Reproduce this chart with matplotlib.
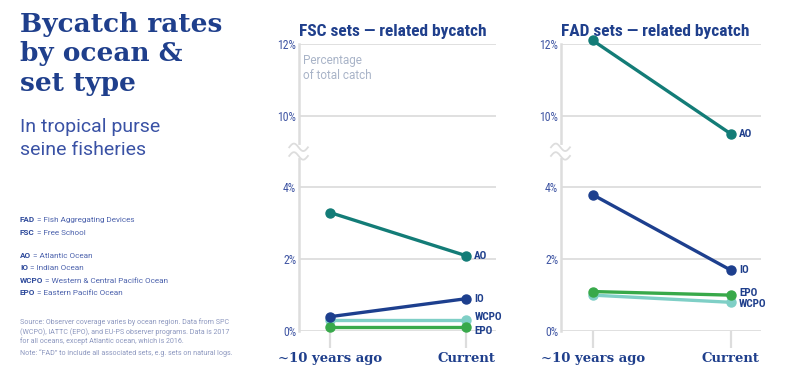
import numpy as np
import matplotlib
matplotlib.use("Agg")
import matplotlib.pyplot as plt
from matplotlib import font_manager

# data
periods = ["~10 years ago", "Current"]
oceans = ["AO", "IO", "WCPO", "EPO"]

fsc_ao = [3.3, 2.1]
fsc_io = [0.4, 0.9]
fsc_wcpo = [0.3, 0.3]
fsc_epo = [0.1, 0.1]

fad_ao = [12.1, 9.5]
fad_io = [3.8, 1.7]
fad_wcpo = [1.0, 0.8]
fad_epo = [1.1, 1.0]

ytick_values = [0, 2, 4, 10, 12]
ytick_labels = ["0%", "2%", "4%", "10%", "12%"]

# styles
NAVY = "#1f3f8c"
TICK_BLUE = "#3f55a3"
GRID = "#dddddd"
colors = {"AO": "#137c77", "IO": "#1d3f8e", "WCPO": "#7fcfc6", "EPO": "#38a94a"}

available = {f.name for f in font_manager.fontManager.ttflist}
def pick(*names):
    return [n for n in names if n in available] or ["DejaVu Sans"]

SANS = pick("Roboto", "DejaVu Sans")
COND = pick("Roboto Condensed", "DejaVu Sans Condensed", "Roboto")
SLAB = pick("Roboto Slab", "DejaVu Serif Condensed", "DejaVu Serif")

plt.rcParams["font.family"] = SANS


# broken y axis: the 4%..8.5% stretch is squeezed to half a percent
def forward(v):
    v = np.asarray(v, dtype=float)
    return np.where(v <= 4, v,
                    np.where(v >= 8.5, v - 4, 4 + (v - 4) * (0.5 / 4.5)))


def inverse(u):
    u = np.asarray(u, dtype=float)
    return np.where(u <= 4, u,
                    np.where(u >= 4.5, u + 4, 4 + (u - 4) * 9))


fig = plt.figure(figsize=(7.87, 3.70), dpi=100)

panels = [
    ("FSC sets \u2014 related bycatch", [0.380, 0.1054, 0.250, 0.7757],
     {"AO": fsc_ao, "IO": fsc_io, "WCPO": fsc_wcpo, "EPO": fsc_epo},
     {"AO": 0, "IO": 0, "WCPO": 2.5, "EPO": -2.5}),
    ("FAD sets \u2014 related bycatch", [0.7128, 0.1054, 0.254, 0.7757],
     {"AO": fad_ao, "IO": fad_io, "WCPO": fad_wcpo, "EPO": fad_epo},
     {"AO": 0, "IO": 0, "WCPO": -1.5, "EPO": 1.5}),
]

draw_order = ["WCPO", "EPO", "IO", "AO"]

for title, rect, series, label_dy in panels:
    ax = fig.add_axes(rect)
    ax.set_yscale("function", functions=(forward, inverse))
    x = np.arange(len(periods))

    for name in draw_order:
        vals = series[name]
        ax.plot(x, vals, color=colors[name], lw=2.4, marker="o", ms=6.5,
                solid_capstyle="round", clip_on=False, zorder=3)
        ax.annotate(name, (x[-1], vals[-1]), xytext=(6, label_dy[name]),
                    textcoords="offset points", ha="left", va="center",
                    fontsize=8, fontweight="bold", color=NAVY,
                    family=COND, annotation_clip=False)

    ax.set_xlim(-0.23, 1.22)
    ax.set_ylim(0, 12)
    ax.set_xticks(x)
    ax.set_xticklabels(periods, fontsize=9.5, fontweight="bold", color=NAVY,
                       family=SLAB)
    ax.tick_params(axis="x", length=12, width=1.6, color=GRID, pad=3)
    ax.set_yticks(ytick_values)
    ax.set_yticklabels(ytick_labels, fontsize=8.5, color=TICK_BLUE, family=COND)
    ax.tick_params(axis="y", length=0, pad=2)
    ax.yaxis.grid(True, color=GRID, lw=1.3)
    ax.set_axisbelow(True)

    for side in ["top", "right", "bottom"]:
        ax.spines[side].set_visible(False)
    ax.spines["left"].set_color(GRID)
    ax.spines["left"].set_linewidth(1.8)

    ax.set_title(title, fontsize=12.5, fontweight="bold", color=NAVY,
                 family=COND, pad=6, loc="left", x=0.0)

    # axis break marks
    yb1, yb2 = 0.64, 0.61
    ax.plot([0, 0], [yb2, yb1], transform=ax.transAxes, color="white",
            lw=3, clip_on=False, zorder=4)
    t = np.linspace(0, 1, 40)
    for yb in (yb1, yb2):
        ax.plot(-0.05 + 0.095 * t, yb + 0.013 * np.sin(2 * np.pi * t),
                transform=ax.transAxes, color=GRID, lw=1.3,
                clip_on=False, zorder=5)

    if title.startswith("FSC"):
        ax.text(0.02, 0.965, "Percentage\nof total catch", transform=ax.transAxes,
                fontsize=8.5, color="#a9b4c8", ha="left", va="top",
                linespacing=1.15)

# left-hand title block
fig.text(20 / 787, 1 - 12 / 370, "Bycatch rates\nby ocean &\nset type",
         fontsize=19, fontweight="bold", color=NAVY, family=SLAB,
         ha="left", va="top", linespacing=1.22)
fig.text(20 / 787, 1 - 118 / 370, "In tropical purse\nseine fisheries",
         fontsize=14, color="#3a52a5",
         ha="left", va="top", linespacing=1.35)

overlay = fig.add_axes([0, 0, 1, 1], facecolor="none")
overlay.set_axis_off()

legend_rows = [
    ("FAD", " = Fish Aggregating Devices", 219),
    ("FSC", " = Free School", 232),
    ("AO", " = Atlantic Ocean", 255),
    ("IO", " = Indian Ocean", 267),
    ("WCPO", " = Western & Central Pacific Ocean", 280),
    ("EPO", " = Eastern Pacific Ocean", 292),
]
for abbr, rest, ypx in legend_rows:
    tb = fig.text(20 / 787, 1 - (ypx + 4) / 370, abbr, fontsize=5.9,
                  fontweight="bold", color="#2e4a9b", ha="left", va="bottom")
    overlay.annotate(rest, xy=(1, 0), xycoords=tb, ha="left", va="bottom",
                     fontsize=5.9, color="#4d63ad")

fig.text(20 / 787, 1 - 318 / 370,
         "Source: Observer coverage varies by ocean region. Data from SPC\n"
         "(WCPO), IATTC (EPO), and EU-PS observer programs. Data is 2017\n"
         "for all oceans, except Atlantic ocean, which is 2016.",
         fontsize=5.1, color="#8c97bf", ha="left", va="top", linespacing=1.3)
fig.text(20 / 787, 1 - 349 / 370,
         "Note: \u201cFAD\u201d to include all associated sets, e.g. sets on natural logs.",
         fontsize=5.1, color="#8c97bf", ha="left", va="top")

fig.savefig("out.png", dpi=100)
